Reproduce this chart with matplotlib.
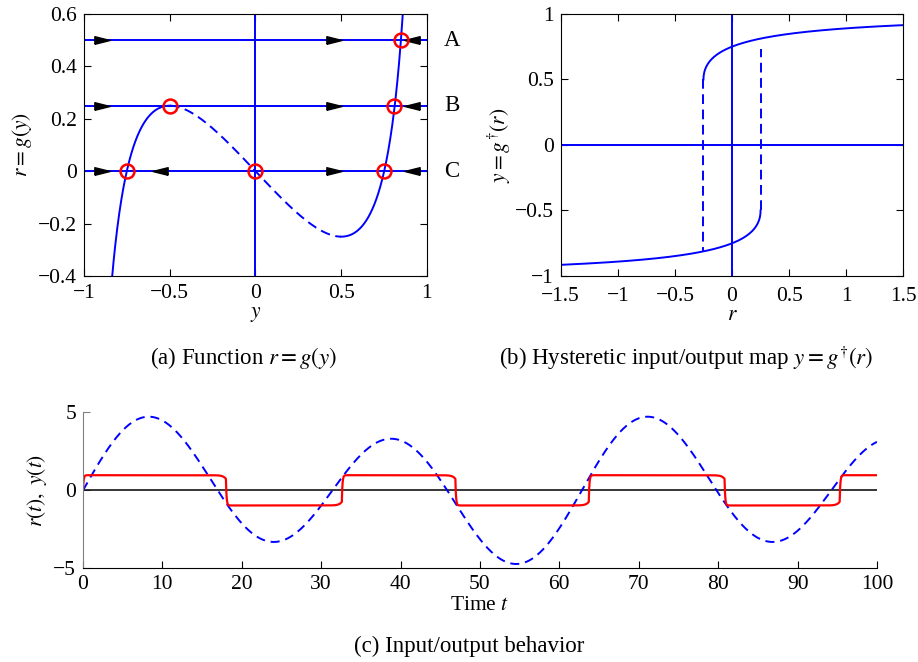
import numpy as np
import matplotlib
matplotlib.use("Agg")
import matplotlib.pyplot as plt
from matplotlib.ticker import FuncFormatter

plt.rcParams['font.family'] = ['Liberation Serif', 'DejaVu Serif']
plt.rcParams['mathtext.fontset'] = 'stix'
plt.rcParams['lines.scale_dashes'] = False
plt.rcParams['font.size'] = 15.5

# ---- panel (a): r = g(y) ----
g_a, g_b, g_q = 0.806, 1.5, 0.75      # shape of g, folds at y = +-0.5, r = -+0.25
fold_y = 0.5
levels_r = [0.5, 0.25, 0.0]
level_names = ['A', 'B', 'C']
eq_y = [0.846, -0.5, 0.81, -0.75, 0.0, 0.75]
eq_r = [0.5, 0.25, 0.25, 0.0, 0.0, 0.0]
arrow_right = [[-0.895, 0.455], [-0.895, 0.455], [-0.895, 0.455]]
arrow_left = [[0.915], [0.915], [-0.555, 0.915]]

# ---- panel (b): y = g^dagger(r) ----
jump_r = [-0.25, 0.25]
jump_from = [0.5, -0.5]
jump_to = [-0.81, 0.73]

# ---- panel (c): input/output in time ----
amp_fast, w_fast = 4.0, 0.2
amp_slow, w_slow = 1.0, 0.1
switch_t = [0.0, 18.0, 32.6, 46.9, 63.7, 80.8, 95.3]
switch_level = [0.97, -0.97, 0.97, -0.97, 0.97, -0.97, 0.97]

BLUE = (0, 0, 1)
RED = (1, 0, 0)
DASH = (7, 4)
TICK_FS = 15.5
CAP_FS = 16.5


def g(y):
    return g_a * y * (1 - y ** 2) ** (-g_q) - g_b * y


fmt = FuncFormatter(lambda v, p: ('%g' % v).replace('-', '\u2212'))


def style_box(ax):
    ax.tick_params(direction='in', top=True, right=True, length=5, labelsize=TICK_FS, pad=5)
    ax.tick_params(axis='x', pad=6)
    ax.xaxis.set_major_formatter(fmt)
    ax.yaxis.set_major_formatter(fmt)


fig = plt.figure(figsize=(9.18, 6.62), dpi=100)

# ============ (a) ============ #
ax = fig.add_axes([0.0915, 0.5831, 0.3736, 0.3958])
yy = np.linspace(-0.995, 0.995, 1200)
rr = g(yy)
lo = yy <= -fold_y
hi = yy >= fold_y
ax.plot(yy[lo], rr[lo], color=BLUE, lw=1.4)
ax.plot(yy[hi], rr[hi], color=BLUE, lw=1.4)
mid = ~(lo | hi)
ax.plot(yy[mid], rr[mid], color=BLUE, lw=1.4, dashes=DASH)
ax.axvline(0, color=BLUE, lw=1.4)
for lev in levels_r:
    ax.axhline(lev, color=BLUE, lw=1.4)

right_tri = [(-1, -0.5), (1, 0), (-1, 0.5), (-1, -0.5)]
left_tri = [(1, -0.5), (-1, 0), (1, 0.5), (1, -0.5)]
for lev, xr, xl in zip(levels_r, arrow_right, arrow_left):
    ax.plot(xr, [lev] * len(xr), ls='none', marker=right_tri, ms=11, color='k', mec='k')
    ax.plot(xl, [lev] * len(xl), ls='none', marker=left_tri, ms=11, color='k', mec='k')

ax.plot(eq_y, eq_r, ls='none', marker='o', ms=10, mfc='none', mec=RED, mew=1.8)
for lev, name in zip(levels_r, level_names):
    ax.text(1.145, lev, name, ha='center', va='center', fontsize=16.5)

ax.set_xlim(-1, 1)
ax.set_ylim(-0.4, 0.6)
ax.set_xticks([-1, -0.5, 0, 0.5, 1])
ax.set_yticks([-0.4, -0.2, 0, 0.2, 0.4, 0.6])
style_box(ax)
ax.set_xlabel('$y$', labelpad=1, fontsize=TICK_FS)
ax.set_ylabel('$r = g(y)$', labelpad=3, fontsize=TICK_FS)

# ============ (b) ============ #
bx = fig.add_axes([0.6108, 0.5831, 0.3732, 0.3958])
yb = np.linspace(fold_y, 0.995, 800)
bx.plot(g(yb), yb, color=BLUE, lw=1.4)
bx.plot(-g(yb), -yb, color=BLUE, lw=1.4)
bx.axhline(0, color=BLUE, lw=1.4)
bx.axvline(0, color=BLUE, lw=1.4)
for xr, y0, y1 in zip(jump_r, jump_from, jump_to):
    bx.plot([xr, xr], [y0, y1], color=BLUE, lw=1.4, dashes=DASH)
bx.set_xlim(-1.5, 1.5)
bx.set_ylim(-1, 1)
bx.set_xticks([-1.5, -1, -0.5, 0, 0.5, 1, 1.5])
bx.set_yticks([-1, -0.5, 0, 0.5, 1])
style_box(bx)
bx.tick_params(axis='x', pad=8)
bx.set_xlabel('$r$', labelpad=0, fontsize=TICK_FS)
bx.set_ylabel(r'$y = g^{\dagger}(r)$', labelpad=1, fontsize=TICK_FS)

# ============ (c) ============ #
cx = fig.add_axes([0.0904, 0.1415, 0.8649, 0.2356])
t = np.linspace(0, 100, 6001)
r_t = amp_fast * np.sin(w_fast * t) + amp_slow * np.sin(w_slow * t)
y_t = np.zeros_like(t)
prev = 0.0
for s, lev in zip(switch_t, switch_level):
    d = t - s
    pre = 0.12 if s > 0 else 0.0
    f = np.where(d < 0, pre * np.exp(np.minimum(d, 0) / 0.35),
                 1 - (1 - pre) * np.exp(-np.maximum(d, 0) / 0.08))
    y_t += (lev - prev) * f
    prev = lev

cx.plot([0, 100], [0, 0], color='k', lw=1.1)
cx.plot(t, r_t, color=BLUE, lw=1.4, dashes=(6.5, 4.2))
cx.plot(t, y_t, color=RED, lw=1.6)
cx.set_xlim(0, 100)
cx.set_ylim(-5, 5)
cx.set_xticks(np.arange(0, 101, 10))
cx.set_yticks([-5, 0, 5])
cx.spines['top'].set_visible(False)
cx.spines['right'].set_visible(False)
cx.spines['left'].set_color('0.5')
cx.tick_params(direction='in', length=5, labelsize=TICK_FS, pad=5)
cx.tick_params(axis='y', colors='0.5', labelcolor='k')
cx.yaxis.set_major_formatter(fmt)
cx.set_xlabel('Time $t$', labelpad=1, fontsize=TICK_FS)
cx.set_ylabel(r'$r(t),\ y(t)$', labelpad=3, fontsize=TICK_FS)

# captions
fig.text(0.265, 0.459, '(a) Function $r = g(y)$', ha='center', va='center', fontsize=CAP_FS)
fig.text(0.747, 0.459, r'(b) Hysteretic input/output map $y = g^{\dagger}(r)$', ha='center', va='center', fontsize=CAP_FS)
fig.text(0.511, 0.023, '(c) Input/output behavior', ha='center', va='center', fontsize=CAP_FS)

fig.savefig('out.png', dpi=100)
